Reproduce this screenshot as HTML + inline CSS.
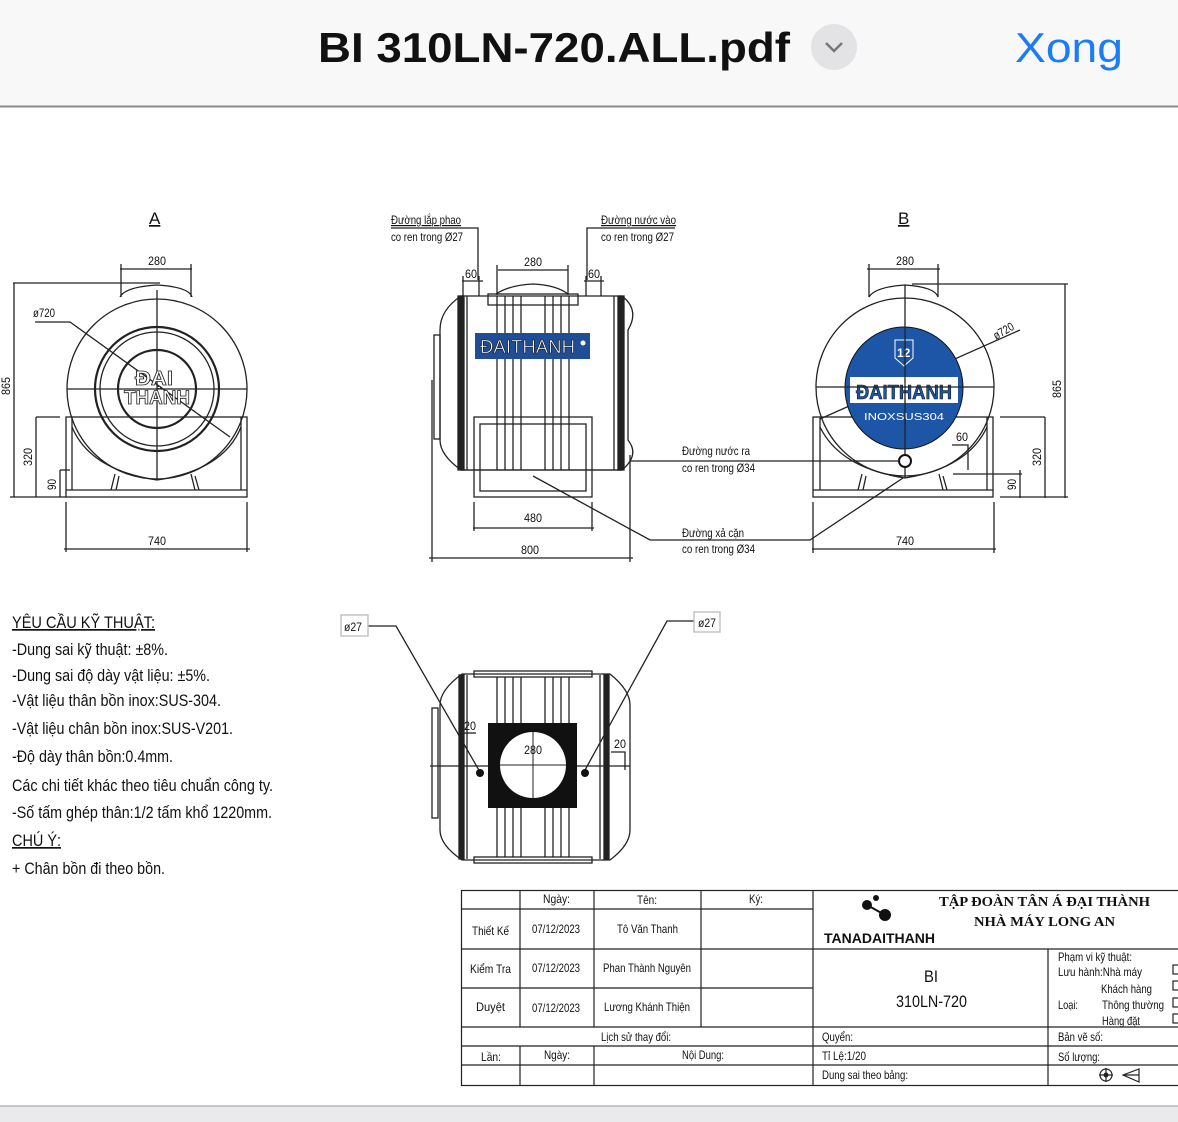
<!DOCTYPE html>
<html><head><meta charset="utf-8"><style>
html,body{margin:0;padding:0;background:#fff;width:1178px;height:1122px;overflow:hidden}
svg{display:block}
text{font-family:"Liberation Sans","DejaVu Sans",sans-serif;fill:#111}
</style></head><body>
<svg width="1178" height="1122" viewBox="0 0 1178 1122" xmlns="http://www.w3.org/2000/svg">
<!-- header -->
<rect x="0" y="0" width="1178" height="106" fill="#f8f8f9"/>
<line x1="0" y1="106.5" x2="1178" y2="106.5" stroke="#8a8a8a" stroke-width="2"/>
<text x="318" y="62" font-size="42" textLength="472" lengthAdjust="spacingAndGlyphs" style="font-weight:bold">BI 310LN-720.ALL.pdf</text>
<circle cx="834" cy="47" r="23" fill="#e3e3e6"/>
<polyline points="826,43 834,51 842,43" fill="none" stroke="#777" stroke-width="2.5"/>
<text x="1015" y="62" font-size="42" textLength="108" lengthAdjust="spacingAndGlyphs" style="fill:#1b7cf3;font-weight:500">Xong</text>
<!-- bottom bar -->
<rect x="0" y="1106" width="1178" height="16" fill="#eaeaec"/>
<line x1="0" y1="1106" x2="1178" y2="1106" stroke="#999" stroke-width="1"/>

<g stroke="#222" fill="none" stroke-width="1.3">
<!-- ===== View A ===== -->
<circle cx="157" cy="389" r="90"/>
<circle cx="157" cy="389" r="62" stroke-width="2.2"/>
<circle cx="157" cy="389" r="57"/>
<circle cx="157" cy="389" r="39" stroke-width="2.2"/>
<path d="M120 297 Q125 287 157 285 Q189 287 192 297"/>
<line x1="67" y1="389" x2="247" y2="389"/>
<line x1="157" y1="290" x2="157" y2="480"/>
<polyline points="35,322 70,322 230,437"/>
<rect x="66" y="417" width="181" height="80"/>
<line x1="66" y1="490" x2="247" y2="490"/>
<line x1="72" y1="417" x2="72" y2="490"/><line x1="241" y1="417" x2="241" y2="490"/>
<path d="M72 427 Q90 470 157 480 Q224 470 241 427"/>
<path d="M115 474 L111 490 M119 476 L116 490 M195 476 L199 490 M191 474 L195 490"/>
<!-- dims A -->
<line x1="13" y1="283" x2="160" y2="283"/><line x1="14" y1="283" x2="14" y2="497"/>
<line x1="10" y1="497" x2="66" y2="497"/>
<line x1="36" y1="417" x2="60" y2="417"/><line x1="36" y1="417" x2="36" y2="497"/>
<line x1="60" y1="470" x2="70" y2="470"/><line x1="60" y1="470" x2="60" y2="497"/>
<line x1="120" y1="269" x2="192" y2="269"/><line x1="121" y1="264" x2="121" y2="297"/><line x1="191" y1="264" x2="191" y2="297"/>
<line x1="64" y1="549" x2="250" y2="549"/><line x1="66" y1="502" x2="66" y2="552"/><line x1="247" y1="502" x2="247" y2="552"/>

<!-- ===== Front view ===== -->
<path d="M461 296 L622 296 Q640 310 628 330 L628 440 Q640 455 622 470 L461 470 Q440 455 440 440 L440 330 Q440 310 461 296 Z"/>
<rect x="434" y="335" width="6" height="104"/>
<rect x="458" y="296" width="6" height="174" fill="#222"/>
<rect x="618" y="296" width="6" height="174" fill="#222"/>
<line x1="467" y1="296" x2="467" y2="470"/><line x1="614" y1="296" x2="614" y2="470"/>
<rect x="488" y="294" width="90" height="11"/>
<path d="M496 294 Q510 285 533 284 Q556 285 568 294"/>
<path d="M497 296V470 M505 296V470 M513 296V470 M521 296V470 M545 296V470 M553 296V470 M561 296V470 M569 296V470"/>
<rect x="474" y="417" width="118" height="80"/>
<rect x="480" y="424" width="106" height="67"/>
<line x1="461" y1="470" x2="622" y2="470"/>
<!-- leaders front -->
<polyline points="478,280 478,228 391,228"/>
<polyline points="587,280 587,228 675,228"/>
<polyline points="630,461 800,461"/>
<polyline points="533,476 650,540 800,540"/>
<!-- dims front -->
<line x1="498" y1="270" x2="568" y2="270"/><line x1="497" y1="265" x2="497" y2="295"/><line x1="568" y1="265" x2="568" y2="295"/>
<line x1="462" y1="281" x2="483" y2="281"/><line x1="463" y1="276" x2="463" y2="296"/><line x1="479" y1="276" x2="479" y2="296"/>
<line x1="584" y1="281" x2="604" y2="281"/><line x1="586" y1="276" x2="586" y2="296"/><line x1="601" y1="276" x2="601" y2="296"/>
<line x1="473" y1="528" x2="594" y2="528"/><line x1="474" y1="502" x2="474" y2="531"/><line x1="592" y1="502" x2="592" y2="531"/>
<line x1="429" y1="558" x2="633" y2="558"/><line x1="432" y1="380" x2="432" y2="562"/><line x1="630" y1="455" x2="630" y2="562"/>

<!-- ===== View B ===== -->
<circle cx="905" cy="387" r="89"/>
<path d="M869 297 Q875 287 905 285 Q935 287 938 297"/>
<rect x="813" y="417" width="180" height="80"/>
<line x1="813" y1="490" x2="993" y2="490"/>
<line x1="820" y1="417" x2="820" y2="490"/><line x1="987" y1="417" x2="987" y2="490"/>
<path d="M820 427 Q840 468 905 478 Q968 468 987 427"/>
<path d="M862 474 L858 490 M866 476 L863 490 M943 476 L947 490 M939 474 L943 490"/>
<!-- dims B -->
<line x1="867" y1="269" x2="940" y2="269"/><line x1="869" y1="264" x2="869" y2="297"/><line x1="938" y1="264" x2="938" y2="297"/>
<line x1="912" y1="284" x2="1068" y2="284"/><line x1="1065" y1="284" x2="1065" y2="498"/>
<line x1="1000" y1="497" x2="1068" y2="497"/>
<line x1="1000" y1="417" x2="1045" y2="417"/><line x1="1045" y1="417" x2="1045" y2="498"/>
<line x1="953" y1="474" x2="1022" y2="474"/><line x1="1020" y1="470" x2="1020" y2="498"/>
<polyline points="952,445 968,445 968,470"/>
<line x1="820" y1="419" x2="1020" y2="330"/>
<line x1="812" y1="549" x2="996" y2="549"/><line x1="813" y1="502" x2="813" y2="553"/><line x1="994" y1="502" x2="994" y2="553"/>

<!-- ===== Bottom view ===== -->
<path d="M462 674 L610 674 Q630 690 630 705 L630 830 Q630 845 610 860 L462 860 Q440 845 440 830 L440 705 Q440 690 462 674 Z"/>
<rect x="432" y="708" width="6" height="110"/>
<rect x="459" y="675" width="5" height="184" fill="#222"/>
<rect x="604" y="675" width="5" height="184" fill="#222"/>
<line x1="467" y1="675" x2="467" y2="859"/><line x1="600" y1="675" x2="600" y2="859"/>
<rect x="474" y="671" width="118" height="6"/><rect x="474" y="857" width="118" height="6"/>
<path d="M497 677V857 M505 677V857 M513 677V857 M521 677V857 M545 677V857 M553 677V857 M561 677V857 M569 677V857"/>
<line x1="430" y1="766" x2="630" y2="766"/>
<polyline points="368,626 396,626 480,772"/>
<polyline points="694,621 667,621 585,770"/>
<rect x="341" y="615" width="27" height="21" stroke="#bbb"/>
<rect x="694" y="612" width="26" height="20" stroke="#bbb"/>
<line x1="464" y1="733" x2="476" y2="733"/>
<polyline points="611,752 625,752 625,770"/>
</g>
<rect x="488" y="723" width="89" height="85" fill="#111"/>
<circle cx="533" cy="765" r="33" fill="#fff"/>
<line x1="500" y1="765" x2="566" y2="765" stroke="#222"/><line x1="533" y1="732" x2="533" y2="798" stroke="#222"/>
<circle cx="480" cy="773" r="4" fill="#111"/><circle cx="585" cy="773" r="4" fill="#111"/>

<!-- blue banners -->
<rect x="475" y="333" width="115" height="26" fill="#1f4e96"/>
<text x="480" y="353" font-size="18" textLength="95" lengthAdjust="spacingAndGlyphs" style="fill:#fff;stroke:#111;stroke-width:.6">ĐAITHANH</text>
<circle cx="583" cy="343" r="2.5" fill="#fff"/>
<ellipse cx="904" cy="388" rx="59" ry="61" fill="#1d56a6" stroke="#111"/>
<rect x="850" y="377" width="108" height="26" fill="#fff"/>
<text x="856" y="399" font-size="20" textLength="96" lengthAdjust="spacingAndGlyphs" style="fill:#1d56a6;stroke:#111;stroke-width:.6;font-weight:bold">ĐAITHANH</text>
<text x="864" y="420" font-size="10" textLength="80" lengthAdjust="spacingAndGlyphs" style="fill:#fff">INOXSUS304</text>
<path d="M895 340 L913 340 L913 358 L904 366 L895 358 Z" fill="#1d56a6" stroke="#fff"/>
<text x="897" y="357" font-size="12" style="fill:#fff;font-weight:bold">12</text>
<line x1="905" y1="285" x2="905" y2="478" stroke="#222" stroke-width="1.3"/>
<line x1="816" y1="387" x2="994" y2="387" stroke="#222" stroke-width="1.3"/>
<circle cx="905" cy="461" r="6" fill="#fff" stroke="#111" stroke-width="2"/>
<line x1="800" y1="461" x2="899" y2="461" stroke="#222" stroke-width="1.3"/>
<polyline points="800,540 810,540 903,478" fill="none" stroke="#222" stroke-width="1.3"/>
<!-- logo A -->
<text x="135" y="385" font-size="20" textLength="38" lengthAdjust="spacingAndGlyphs" style="fill:#fff;stroke:#222;stroke-width:.8;font-weight:bold">ĐẠI</text>
<text x="124" y="404" font-size="19" textLength="66" lengthAdjust="spacingAndGlyphs" style="fill:#fff;stroke:#222;stroke-width:.8;font-weight:bold">THANH</text>

<!-- labels drawing -->
<g font-size="12">
<text x="149" y="224" font-size="17" style="text-decoration:underline">A</text>
<text x="898" y="224" font-size="17" style="text-decoration:underline">B</text>
<text x="148" y="265" textLength="18" lengthAdjust="spacingAndGlyphs">280</text>
<text x="896" y="265" textLength="18" lengthAdjust="spacingAndGlyphs">280</text>
<text x="524" y="266" textLength="18" lengthAdjust="spacingAndGlyphs">280</text>
<text x="465" y="278" textLength="12" lengthAdjust="spacingAndGlyphs">60</text>
<text x="588" y="278" textLength="12" lengthAdjust="spacingAndGlyphs">60</text>
<text x="33" y="317" textLength="22" lengthAdjust="spacingAndGlyphs">ø720</text>
<text x="148" y="545" textLength="18" lengthAdjust="spacingAndGlyphs">740</text>
<text x="896" y="545" textLength="18" lengthAdjust="spacingAndGlyphs">740</text>
<text x="524" y="522" textLength="18" lengthAdjust="spacingAndGlyphs">480</text>
<text x="521" y="554" textLength="18" lengthAdjust="spacingAndGlyphs">800</text>
<text x="956" y="441" textLength="12" lengthAdjust="spacingAndGlyphs">60</text>
<text transform="translate(10,395) rotate(-90)" textLength="18" lengthAdjust="spacingAndGlyphs">865</text>
<text transform="translate(32,466) rotate(-90)" textLength="18" lengthAdjust="spacingAndGlyphs">320</text>
<text transform="translate(56,490) rotate(-90)" textLength="11" lengthAdjust="spacingAndGlyphs">90</text>
<text transform="translate(1061,398) rotate(-90)" textLength="18" lengthAdjust="spacingAndGlyphs">865</text>
<text transform="translate(1041,466) rotate(-90)" textLength="18" lengthAdjust="spacingAndGlyphs">320</text>
<text transform="translate(1016,490) rotate(-90)" textLength="11" lengthAdjust="spacingAndGlyphs">90</text>
<text transform="translate(996,340) rotate(-30)" textLength="22" lengthAdjust="spacingAndGlyphs">ø720</text>
<text x="391" y="224" textLength="70" lengthAdjust="spacingAndGlyphs" style="text-decoration:underline">Đường lắp phao</text>
<text x="391" y="241" textLength="72" lengthAdjust="spacingAndGlyphs">co ren trong Ø27</text>
<text x="601" y="224" textLength="75" lengthAdjust="spacingAndGlyphs" style="text-decoration:underline">Đường nước vào</text>
<text x="601" y="241" textLength="73" lengthAdjust="spacingAndGlyphs">co ren trong Ø27</text>
<text x="682" y="455" textLength="68" lengthAdjust="spacingAndGlyphs">Đường nước ra</text>
<text x="682" y="472" textLength="73" lengthAdjust="spacingAndGlyphs">co ren trong Ø34</text>
<text x="682" y="537" textLength="62" lengthAdjust="spacingAndGlyphs">Đường xả cặn</text>
<text x="682" y="553" textLength="73" lengthAdjust="spacingAndGlyphs">co ren trong Ø34</text>
<text x="344" y="631" textLength="18" lengthAdjust="spacingAndGlyphs">ø27</text>
<text x="698" y="627" textLength="18" lengthAdjust="spacingAndGlyphs">ø27</text>
<text x="464" y="730" textLength="12" lengthAdjust="spacingAndGlyphs">20</text>
<text x="614" y="748" textLength="12" lengthAdjust="spacingAndGlyphs">20</text>
<text x="524" y="754" textLength="18" lengthAdjust="spacingAndGlyphs">280</text>
</g>

<!-- left notes -->
<g font-size="17">
<text x="12" y="628" textLength="143" lengthAdjust="spacingAndGlyphs" style="text-decoration:underline">YÊU CẦU KỸ THUẬT:</text>
<text x="12" y="655" textLength="156" lengthAdjust="spacingAndGlyphs">-Dung sai kỹ thuật: ±8%.</text>
<text x="12" y="681" textLength="198" lengthAdjust="spacingAndGlyphs">-Dung sai độ dày vật liệu: ±5%.</text>
<text x="12" y="706" textLength="209" lengthAdjust="spacingAndGlyphs">-Vật liệu thân bồn inox:SUS-304.</text>
<text x="12" y="734" textLength="221" lengthAdjust="spacingAndGlyphs">-Vật liệu chân bồn inox:SUS-V201.</text>
<text x="12" y="762" textLength="161" lengthAdjust="spacingAndGlyphs">-Độ dày thân bồn:0.4mm.</text>
<text x="12" y="791" textLength="261" lengthAdjust="spacingAndGlyphs">Các chi tiết khác theo tiêu chuẩn công ty.</text>
<text x="12" y="818" textLength="260" lengthAdjust="spacingAndGlyphs">-Số tấm ghép thân:1/2 tấm khổ 1220mm.</text>
<text x="12" y="846" textLength="49" lengthAdjust="spacingAndGlyphs" style="text-decoration:underline">CHÚ Ý:</text>
<text x="12" y="874" textLength="153" lengthAdjust="spacingAndGlyphs">+ Chân bồn đi theo bồn.</text>
</g>

<!-- title block -->
<g stroke="#222" fill="none" stroke-width="1.2">
<rect x="461.5" y="890.5" width="720" height="195"/>
<line x1="461" y1="909" x2="813" y2="909"/>
<line x1="461" y1="949" x2="1178" y2="949"/>
<line x1="461" y1="988" x2="813" y2="988"/>
<line x1="461" y1="1027" x2="1178" y2="1027"/>
<line x1="461" y1="1046" x2="1178" y2="1046"/>
<line x1="461" y1="1065" x2="1178" y2="1065"/>
<line x1="520" y1="890" x2="520" y2="1027"/><line x1="520" y1="1046" x2="520" y2="1085"/>
<line x1="594" y1="890" x2="594" y2="1027"/><line x1="594" y1="1046" x2="594" y2="1085"/>
<line x1="701" y1="890" x2="701" y2="1027"/>
<line x1="813" y1="890" x2="813" y2="1085"/>
<line x1="1048" y1="949" x2="1048" y2="1085"/>
<rect x="1173" y="965" width="6" height="9"/><rect x="1173" y="981" width="6" height="9"/><rect x="1173" y="998" width="6" height="9"/><rect x="1173" y="1014" width="6" height="9"/>
<circle cx="1106" cy="1075" r="6"/><line x1="1099" y1="1075" x2="1113" y2="1075"/><line x1="1106" y1="1068" x2="1106" y2="1082"/>
<path d="M1123 1075 L1139 1069 L1139 1082 Z M1123 1075 H1139"/>
</g>
<circle cx="1106" cy="1075" r="2.5" fill="#222"/>
<circle cx="867" cy="905" r="5" fill="#111"/><circle cx="885" cy="915" r="6" fill="#111"/><circle cx="876" cy="898" r="3" fill="#111"/>
<line x1="867" y1="905" x2="885" y2="915" stroke="#111" stroke-width="2"/>
<g font-size="12">
<text x="543" y="903" textLength="27" lengthAdjust="spacingAndGlyphs">Ngày:</text>
<text x="637" y="904" textLength="20" lengthAdjust="spacingAndGlyphs">Tên:</text>
<text x="749" y="903" textLength="14" lengthAdjust="spacingAndGlyphs">Ký:</text>
<text x="472" y="935" textLength="37" lengthAdjust="spacingAndGlyphs">Thiết Kế</text>
<text x="532" y="933" textLength="48" lengthAdjust="spacingAndGlyphs">07/12/2023</text>
<text x="617" y="933" textLength="61" lengthAdjust="spacingAndGlyphs">Tô Văn Thanh</text>
<text x="470" y="973" textLength="41" lengthAdjust="spacingAndGlyphs">Kiểm Tra</text>
<text x="532" y="972" textLength="48" lengthAdjust="spacingAndGlyphs">07/12/2023</text>
<text x="603" y="972" textLength="88" lengthAdjust="spacingAndGlyphs">Phan Thành Nguyên</text>
<text x="476" y="1011" textLength="29" lengthAdjust="spacingAndGlyphs">Duyệt</text>
<text x="532" y="1012" textLength="48" lengthAdjust="spacingAndGlyphs">07/12/2023</text>
<text x="604" y="1011" textLength="86" lengthAdjust="spacingAndGlyphs">Lương Khánh Thiện</text>
<text x="601" y="1041" textLength="70" lengthAdjust="spacingAndGlyphs">Lịch sử thay đổi:</text>
<text x="481" y="1061" textLength="20" lengthAdjust="spacingAndGlyphs">Lần:</text>
<text x="544" y="1059" textLength="26" lengthAdjust="spacingAndGlyphs">Ngày:</text>
<text x="682" y="1059" textLength="42" lengthAdjust="spacingAndGlyphs">Nội Dung:</text>
<text x="822" y="1041" textLength="31" lengthAdjust="spacingAndGlyphs">Quyển:</text>
<text x="822" y="1060" textLength="44" lengthAdjust="spacingAndGlyphs">Tỉ Lệ:1/20</text>
<text x="822" y="1079" textLength="86" lengthAdjust="spacingAndGlyphs">Dung sai theo bảng:</text>
<text x="1058" y="1041" textLength="45" lengthAdjust="spacingAndGlyphs">Bản vẽ số:</text>
<text x="1058" y="1061" textLength="42" lengthAdjust="spacingAndGlyphs">Số lượng:</text>
<text x="1058" y="961" textLength="74" lengthAdjust="spacingAndGlyphs">Phạm vi kỹ thuật:</text>
<text x="1058" y="976" textLength="84" lengthAdjust="spacingAndGlyphs">Lưu hành:Nhà máy</text>
<text x="1101" y="993" textLength="51" lengthAdjust="spacingAndGlyphs">Khách hàng</text>
<text x="1058" y="1009" textLength="20" lengthAdjust="spacingAndGlyphs">Loại:</text>
<text x="1102" y="1009" textLength="62" lengthAdjust="spacingAndGlyphs">Thông thường</text>
<text x="1102" y="1025" textLength="38" lengthAdjust="spacingAndGlyphs">Hàng đặt</text>
</g>
<text x="924" y="982" font-size="17" textLength="14" lengthAdjust="spacingAndGlyphs">BI</text>
<text x="896" y="1007" font-size="17" textLength="71" lengthAdjust="spacingAndGlyphs">310LN-720</text>
<text x="824" y="943" font-size="14" textLength="111" lengthAdjust="spacingAndGlyphs" style="font-weight:bold">TANADAITHANH</text>
<text x="939" y="906" font-size="14" textLength="211" lengthAdjust="spacingAndGlyphs" style="font-family:'Liberation Serif',serif;font-weight:bold">TẬP ĐOÀN TÂN Á ĐẠI THÀNH</text>
<text x="974" y="926" font-size="14" textLength="141" lengthAdjust="spacingAndGlyphs" style="font-family:'Liberation Serif',serif;font-weight:bold">NHÀ MÁY LONG AN</text>
</svg>
</body></html>
